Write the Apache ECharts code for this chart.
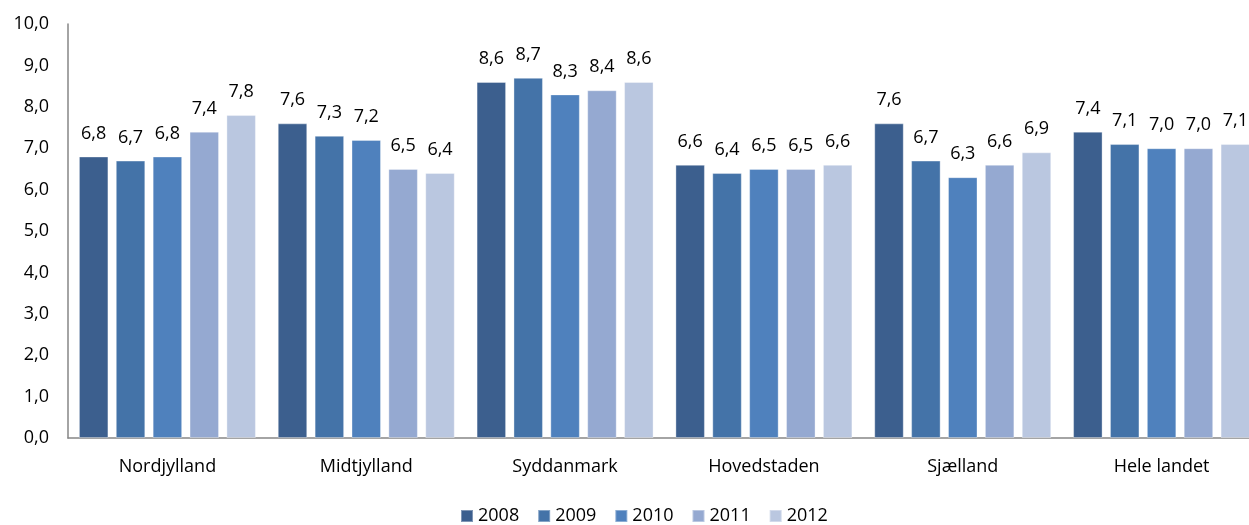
<!DOCTYPE html>
<html>
<head>
<meta charset="utf-8">
<script src="https://cdn.jsdelivr.net/npm/echarts@6/dist/echarts.min.js"></script>
<style>
  html, body { margin: 0; padding: 0; background: #fff; }
  #chart { width: 1249px; height: 525px; }
</style>
</head>
<body>
<div id="chart"></div>
<script>
// Regions on the category axis
const regions = ['Nordjylland', 'Midtjylland', 'Syddanmark', 'Hovedstaden', 'Sjælland', 'Hele landet'];

// One value per region for each year
const years = ['2008', '2009', '2010', '2011', '2012'];
const v2008 = [6.8, 7.6, 8.6, 6.6, 7.6, 7.4];
const v2009 = [6.7, 7.3, 8.7, 6.4, 6.7, 7.1];
const v2010 = [6.8, 7.2, 8.3, 6.5, 6.3, 7.0];
const v2011 = [7.4, 6.5, 8.4, 6.5, 6.6, 7.0];
const v2012 = [7.8, 6.4, 8.6, 6.6, 6.9, 7.1];
const yearValues = [v2008, v2009, v2010, v2011, v2012];

const palette = ['#3C5F8E', '#4473A8', '#4F81BD', '#95A9D1', '#BAC7E0'];
const font = '"Open Sans", "Noto Sans", sans-serif';
const fmt = v => v.toFixed(1).replace('.', ',');

const chart = echarts.init(document.getElementById('chart'), null, { renderer: 'canvas' });

chart.setOption({
  animation: false,
  color: palette,
  textStyle: { fontFamily: font },
  // the plot runs slightly past the right edge of the canvas
  grid: {
    left: 68, width: 1193, top: 24, height: 414,
    containLabel: false,
    outerBoundsMode: 'none'
  },
  legend: {
    top: 507,
    left: 460,
    padding: 0,
    itemWidth: 12,
    itemHeight: 12,
    itemGap: 18,
    icon: 'rect',
    textStyle: { fontFamily: font, fontSize: 18, color: '#000' },
    data: years
  },
  xAxis: {
    type: 'category',
    data: regions,
    axisLine: { lineStyle: { color: '#868686', width: 1.5 } },
    axisTick: { show: false },
    axisLabel: { fontFamily: font, fontSize: 18, color: '#000', margin: 20 }
  },
  yAxis: {
    type: 'value',
    min: 0,
    max: 10,
    interval: 1,
    axisLine: { show: true, lineStyle: { color: '#868686', width: 1.5 } },
    axisTick: { show: false },
    splitLine: { show: false },
    axisLabel: {
      fontFamily: font, fontSize: 18, color: '#000', margin: 19,
      formatter: v => fmt(v)
    }
  },
  series: years.map((y, i) => ({
    name: y,
    type: 'bar',
    data: yearValues[i],
    barWidth: 29.5,
    barGap: '25%',
    itemStyle: { borderColor: 'rgba(255,255,255,0.35)', borderWidth: 1 },
    label: {
      show: true,
      position: 'top',
      distance: 14,
      fontFamily: font,
      fontSize: 18,
      color: '#000',
      formatter: p => fmt(p.value)
    }
  }))
});
</script>
</body>
</html>
